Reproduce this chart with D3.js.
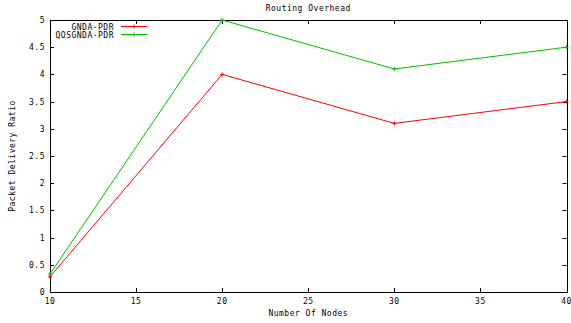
<!DOCTYPE html>
<html><head><meta charset="utf-8">
<script src="https://cdn.jsdelivr.net/npm/d3@7"></script>
<style>body{margin:0;background:#fff}svg{display:block}text{font-family:"DejaVu Sans Mono",monospace;font-size:8px;letter-spacing:0.5px;fill:#000}</style>
</head><body>
<script>
const nodes = [10, 20, 30, 40];
const gndaPdr = [0.28, 4.0, 3.1, 3.5];
const qosGndaPdr = [0.33, 5.0, 4.1, 4.5];
const xTicks = [10, 15, 20, 25, 30, 35, 40];
const yTicks = [0, 0.5, 1, 1.5, 2, 2.5, 3, 3.5, 4, 4.5, 5];
const seriesNames = ["GNDA-PDR", "QOSGNDA-PDR"];
const seriesColors = ["#ff0000", "#00c000"];

const W = 571, H = 323;
const m = {l: 50, r: 4.5, t: 20, b: 31};
const svg = d3.select("body").append("svg").attr("width", W).attr("height", H);
const x = d3.scaleLinear().domain([10, 40]).range([m.l, W - m.r]);
const y = d3.scaleLinear().domain([0, 5]).range([H - m.b, m.t]);
const tl = 4;

// ticks (inward, mirrored)
const g = svg.append("g").attr("stroke", "#000").attr("stroke-width", 1);
xTicks.forEach(v => {
  const px = Math.round(x(v)) + 0.5;
  g.append("line").attr("x1", px).attr("x2", px).attr("y1", y(0)).attr("y2", y(0) - tl);
  g.append("line").attr("x1", px).attr("x2", px).attr("y1", y(5)).attr("y2", y(5) + tl);
  svg.append("text").attr("x", x(v)).attr("y", y(0) + 12).attr("text-anchor", "middle").text(v);
});
yTicks.forEach(v => {
  const py = Math.round(y(v)) + 0.5;
  g.append("line").attr("x1", x(10)).attr("x2", x(10) + tl).attr("y1", py).attr("y2", py);
  g.append("line").attr("x1", x(40)).attr("x2", x(40) - tl).attr("y1", py).attr("y2", py);
  svg.append("text").attr("x", x(10) - 5).attr("y", y(v) + 3).attr("text-anchor", "end").text(v);
});
svg.append("rect").attr("x", Math.round(x(10)) + 0.5).attr("y", Math.round(y(5)) + 0.5)
  .attr("width", Math.round(x(40)) - Math.round(x(10))).attr("height", Math.round(y(0)) - Math.round(y(5)))
  .attr("fill", "none").attr("stroke", "#000");

// series
const line = d3.line().x((d, i) => x(nodes[i])).y(d => y(d));
const mark = (sel, cx, cy, col) => {
  sel.append("path").attr("d", `M${cx-2},${cy}H${cx+2}M${cx},${cy-2}V${cy+2}`).attr("stroke", col).attr("stroke-width", 1);
};
[gndaPdr, qosGndaPdr].forEach((s, k) => {
  svg.append("path").datum(s).attr("d", line).attr("fill", "none").attr("stroke", seriesColors[k]).attr("stroke-width", 1);
  s.forEach((v, i) => mark(svg, x(nodes[i]), y(v), seriesColors[k]));
});

// legend
seriesNames.forEach((n, k) => {
  const ly = 26.5 + k * 8;
  svg.append("text").attr("x", 114).attr("y", ly + 3).attr("text-anchor", "end").text(n);
  svg.append("line").attr("x1", 121).attr("x2", 147).attr("y1", ly).attr("y2", ly).attr("stroke", seriesColors[k]);
  mark(svg, 134, ly, seriesColors[k]);
});

// titles
svg.append("text").attr("x", (x(10) + x(40)) / 2).attr("y", 11).attr("text-anchor", "middle").text("Routing Overhead");
svg.append("text").attr("x", (x(10) + x(40)) / 2).attr("y", 316).attr("text-anchor", "middle").text("Number Of Nodes");
svg.append("text").attr("transform", `translate(15,${(y(0) + y(5)) / 2}) rotate(-90)`).attr("text-anchor", "middle").text("Packet Delivery Ratio");
</script>
</body></html>
